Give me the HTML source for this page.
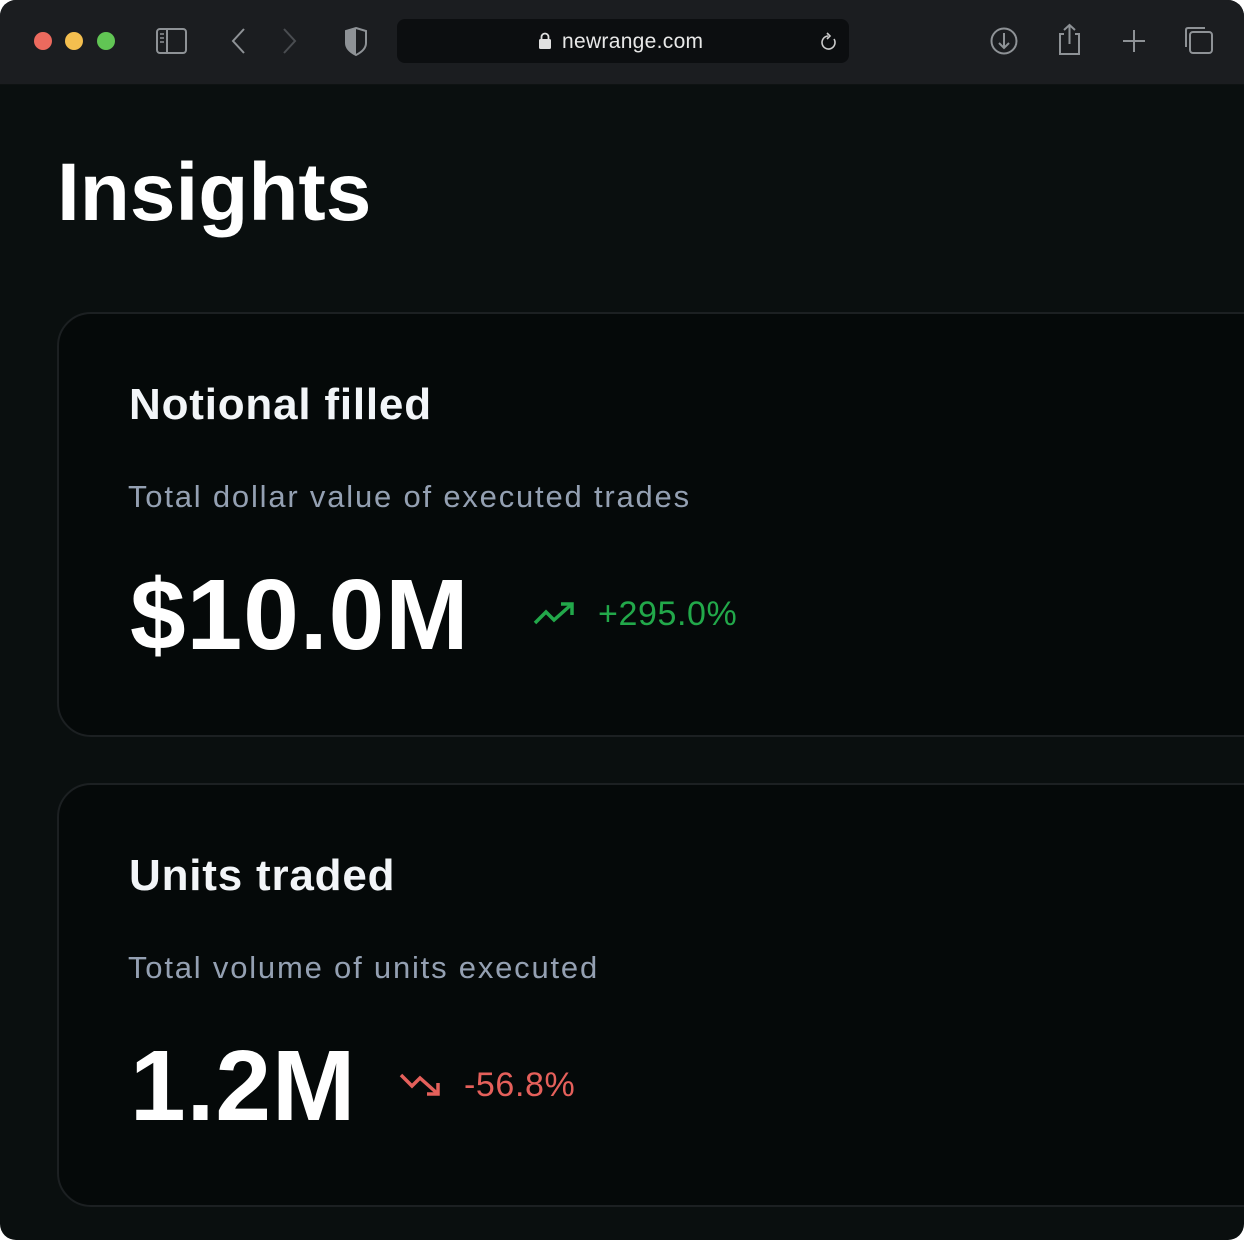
<!DOCTYPE html>
<html><head><meta charset="utf-8"><style>
html,body{margin:0;padding:0;background:#fff;}
body{width:1244px;height:1240px;overflow:hidden;position:relative;font-family:"Liberation Sans",sans-serif;}
.win{position:absolute;left:0;top:0;width:1244px;height:1240px;border-radius:16px;overflow:hidden;background:#0a0f0f;}
.bar{position:absolute;left:0;top:0;width:1244px;height:84px;background:#1b1d20;border-bottom:1px solid #0e1212;}
.dot{position:absolute;top:32px;width:18px;height:18px;border-radius:50%;}
.url{position:absolute;left:397px;top:19px;width:452px;height:44px;border-radius:8px;background:#0c0e10;}
.url span{position:absolute;left:165px;top:11px;color:#e8e8e8;font-size:21px;letter-spacing:0.3px;}
.card{position:absolute;left:57px;width:1220px;border:2px solid #1c2022;border-radius:34px;background:#050909;}
.t{position:absolute;left:70px;color:#f2f5f8;font-weight:bold;font-size:44px;letter-spacing:0.8px;}
.s{position:absolute;left:69px;color:#94a0b2;font-size:31px;letter-spacing:1.8px;}
.big{position:absolute;left:71px;color:#fff;font-weight:bold;font-size:100px;letter-spacing:1px;}
.pct{position:absolute;font-size:34px;letter-spacing:0.6px;}
</style></head><body>
<div class="win">
<div class="bar">
<div class="dot" style="left:34px;background:#ec6a5e"></div>
<div class="dot" style="left:65px;background:#f4bf4f"></div>
<div class="dot" style="left:97px;background:#61c554"></div>
<svg style="position:absolute;left:150px;top:24px" width="220" height="36" viewBox="0 0 220 36">
<rect x="7" y="5" width="29" height="24" rx="3" fill="none" stroke="#8e9296" stroke-width="2"/>
<line x1="17" y1="5" x2="17" y2="29" stroke="#8e9296" stroke-width="2"/>
<line x1="10" y1="10" x2="14" y2="10" stroke="#8e9296" stroke-width="1.5"/>
<line x1="10" y1="14" x2="14" y2="14" stroke="#8e9296" stroke-width="1.5"/>
<line x1="10" y1="18" x2="14" y2="18" stroke="#8e9296" stroke-width="1.5"/>
<polyline points="94,5 83,17 94,29" fill="none" stroke="#8e9296" stroke-width="2"/>
<polyline points="134,5 145,17 134,29" fill="none" stroke="#4a4d51" stroke-width="2"/>
<path d="M206,4 L216,7 L216,19 Q216,26 206,31 Q196,26 196,19 L196,7 Z" fill="none" stroke="#8e9296" stroke-width="2"/>
<path d="M206,4 L196,7 L196,19 Q196,26 206,31 Z" fill="#8e9296"/>
</svg>
<div class="url"><svg style="position:absolute;left:141px;top:13px" width="14" height="18"><rect x="1" y="7" width="12" height="10" rx="1.5" fill="#e0e0e0"/><path d="M3.5,7 V5 a3.5,3.5 0 0 1 7,0 V7" fill="none" stroke="#e0e0e0" stroke-width="1.8"/></svg><span>newrange.com</span>
<svg style="position:absolute;left:422px;top:12px" width="20" height="22"><path d="M15,8 A6.5,6.5 0 1 1 9,5" fill="none" stroke="#ccc" stroke-width="1.6"/><polyline points="8,2 11,5 8,8" fill="none" stroke="#ccc" stroke-width="1.6"/></svg></div>
<svg style="position:absolute;left:980px;top:20px" width="240" height="44" viewBox="0 0 240 44">
<circle cx="24" cy="21" r="12.5" fill="none" stroke="#8e9296" stroke-width="2"/>
<line x1="24" y1="13" x2="24" y2="28" stroke="#8e9296" stroke-width="2"/>
<polyline points="19,23 24,28 29,23" fill="none" stroke="#8e9296" stroke-width="2"/>
<path d="M84,14 L80,14 L80,34 L99,34 L99,14 L95,14" fill="none" stroke="#8e9296" stroke-width="2"/>
<line x1="89.5" y1="5" x2="89.5" y2="24" stroke="#8e9296" stroke-width="2"/>
<polyline points="84,10 89.5,5 95,10" fill="none" stroke="#8e9296" stroke-width="2"/>
<line x1="154" y1="10" x2="154" y2="32" stroke="#8e9296" stroke-width="2"/>
<line x1="143" y1="21" x2="165" y2="21" stroke="#8e9296" stroke-width="2"/>
<rect x="210" y="12" width="22" height="21" rx="3" fill="none" stroke="#8e9296" stroke-width="2"/>
<path d="M206,27 L206,10 Q206,8 208,8 L225,8" fill="none" stroke="#8e9296" stroke-width="2"/>
</svg>
</div>
<div style="position:absolute;left:57px;top:146px;color:#fff;font-weight:bold;font-size:82px;letter-spacing:0px;">Insights</div>

<div class="card" style="top:312px;height:421px;">
<div class="t" style="top:66px">Notional filled</div>
<div class="s" style="top:165px">Total dollar value of executed trades</div>
<div class="big" style="top:244px">$10.0M</div>
<svg style="position:absolute;left:473px;top:285px" width="46" height="30"><polyline points="3,24 14,13 22,21 40,5" fill="none" stroke="#22a84a" stroke-width="3.5"/><polyline points="29,5 40,5 40,16" fill="none" stroke="#22a84a" stroke-width="3.5"/></svg>
<div class="pct" style="left:539px;top:281px;color:#22a84a">+295.0%</div>
</div>

<div class="card" style="top:783px;height:420px;">
<div class="t" style="top:66px">Units traded</div>
<div class="s" style="top:165px">Total volume of units executed</div>
<div class="big" style="top:244px">1.2M</div>
<svg style="position:absolute;left:339px;top:285px" width="46" height="30"><polyline points="3,5 14,16 22,8 40,24" fill="none" stroke="#e5605b" stroke-width="3.5"/><polyline points="29,24 40,24 40,13" fill="none" stroke="#e5605b" stroke-width="3.5"/></svg>
<div class="pct" style="left:405px;top:281px;color:#e5605b">-56.8%</div>
</div>
</div>
</body></html>
